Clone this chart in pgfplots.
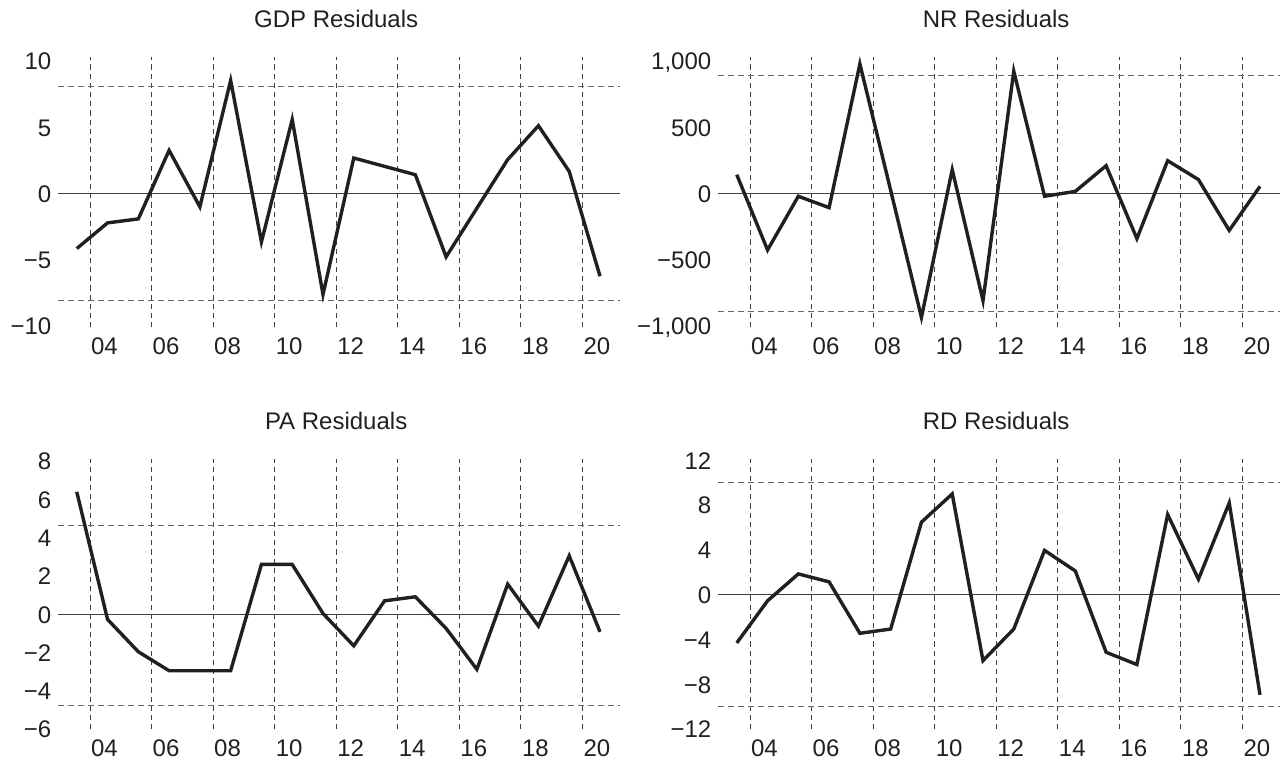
\documentclass[border=0pt]{standalone}
\usepackage{fontspec}
\setmainfont{Liberation Sans}
\usepackage{pgfplots}
\pgfplotsset{compat=1.18}
\definecolor{ink}{HTML}{231F20}
\pgfplotsset{
  resid/.style={
    scale only axis, width=280.85pt, height=135pt,
    anchor=north west,
    xmin=2002.4, xmax=2020.65,
    axis line style={draw=none},
    tick style={draw=none},
    major tick length=0pt,
    xtick={2003.9,2005.9,2007.9,2009.9,2011.9,2013.9,2015.9,2017.9,2019.9},
    xticklabels={04,06,08,10,12,14,16,18,20},
    extra x ticks={2003.43,2005.43,2007.43,2009.43,2011.43,2013.43,2015.43,2017.43,2019.43},
    extra x tick labels={},
    extra x tick style={grid=major, major grid style={black!75, line width=0.5pt, dash pattern=on 2.6pt off 2pt}},
    ticklabel style={font=\fontsize{12}{14}\selectfont, text=ink},
    xticklabel style={anchor=base, yshift=-13.35pt},
    yticklabel style={text height=8.6pt, text depth=0pt},
    every axis title/.style={at={(0.5,1)}, anchor=base, yshift=14.9pt, xshift=-1.5pt, font=\fontsize{12}{14}\selectfont, text=ink},
    clip=false,
  },
  zeroline/.style={black!75, line width=0.6pt, forget plot},
  band/.style={black!60, line width=0.55pt, dash pattern=on 3pt off 2pt, forget plot},
  series/.style={ink, line width=1.7pt, line join=miter, miter limit=10, mark=none},
}
\begin{document}
\begin{tikzpicture}
\path (0,0) rectangle (642pt,-381pt);
% GDP
\begin{axis}[resid, at={(29.15pt,-28.65pt)}, title={GDP Residuals},
  ymin=-10.1, ymax=10.3, ytick={-10,-5,0,5,10}, yticklabels={−10,−5,0,5,10}]
\addplot[zeroline] coordinates {(2002.4,0) (2020.65,0)};
\addplot[band] coordinates {(2002.4,8.1) (2020.65,8.1)};
\addplot[band] coordinates {(2002.4,-8.05) (2020.65,-8.05)};
\addplot[series] coordinates {
(2003,-4.15) (2004,-2.21) (2005,-1.91) (2006,3.27) (2007,-1.0) (2008,8.55)
(2009,-3.65) (2010,5.6) (2011,-7.62) (2012,2.69) (2013,2.06) (2014,1.43)
(2015,-4.78) (2016,-1.1) (2017,2.57) (2018,5.13) (2019,1.68) (2020,-6.24)};
\end{axis}
% NR
\begin{axis}[resid, at={(359.15pt,-28.65pt)}, title={NR Residuals},
  ymin=-1010, ymax=1030, ytick={-1000,-500,0,500,1000}, yticklabels={{−1,000},−500,0,500,{1,000}}]
\addplot[zeroline] coordinates {(2002.4,0) (2020.65,0)};
\addplot[band] coordinates {(2002.4,890) (2020.65,890)};
\addplot[band] coordinates {(2002.4,-892) (2020.65,-892)};
\addplot[series] coordinates {
(2003,143) (2004,-426) (2005,-20) (2006,-106) (2007,980) (2008,25)
(2009,-935) (2010,181) (2011,-808) (2012,925) (2013,-20) (2014,17)
(2015,211) (2016,-340) (2017,249) (2018,106) (2019,-278) (2020,55)};
\end{axis}
% PA
\begin{axis}[resid, at={(29.15pt,-229.65pt)}, title={PA Residuals},
  ymin=-6, ymax=8.1, ytick={-6,-4,-2,0,2,4,6,8}, yticklabels={−6,−4,−2,0,2,4,6,8}]
\addplot[zeroline] coordinates {(2002.4,0) (2020.65,0)};
\addplot[band] coordinates {(2002.4,4.63) (2020.65,4.63)};
\addplot[band] coordinates {(2002.4,-4.74) (2020.65,-4.74)};
\addplot[series] coordinates {
(2003,6.40) (2004,-0.26) (2005,-1.95) (2006,-2.94) (2007,-2.94) (2008,-2.94)
(2009,2.61) (2010,2.61) (2011,0.05) (2012,-1.64) (2013,0.71) (2014,0.92)
(2015,-0.73) (2016,-2.87) (2017,1.58) (2018,-0.61) (2019,3.06) (2020,-0.91)};
\end{axis}
% RD
\begin{axis}[resid, at={(359.15pt,-229.65pt)}, title={RD Residuals},
  ymin=-12, ymax=12.1, ytick={-12,-8,-4,0,4,8,12}, yticklabels={−12,−8,−4,0,4,8,12}]
\addplot[zeroline] coordinates {(2002.4,0) (2020.65,0)};
\addplot[band] coordinates {(2002.4,10.04) (2020.65,10.04)};
\addplot[band] coordinates {(2002.4,-10.0) (2020.65,-10.0)};
\addplot[series] coordinates {
(2003,-4.29) (2004,-0.53) (2005,1.87) (2006,1.16) (2007,-3.43) (2008,-3.05)
(2009,6.49) (2010,9.01) (2011,-5.87) (2012,-3.05) (2013,3.97) (2014,2.13)
(2015,-5.12) (2016,-6.22) (2017,7.17) (2018,1.40) (2019,8.21) (2020,-8.92)};
\end{axis}
\end{tikzpicture}
\end{document}
